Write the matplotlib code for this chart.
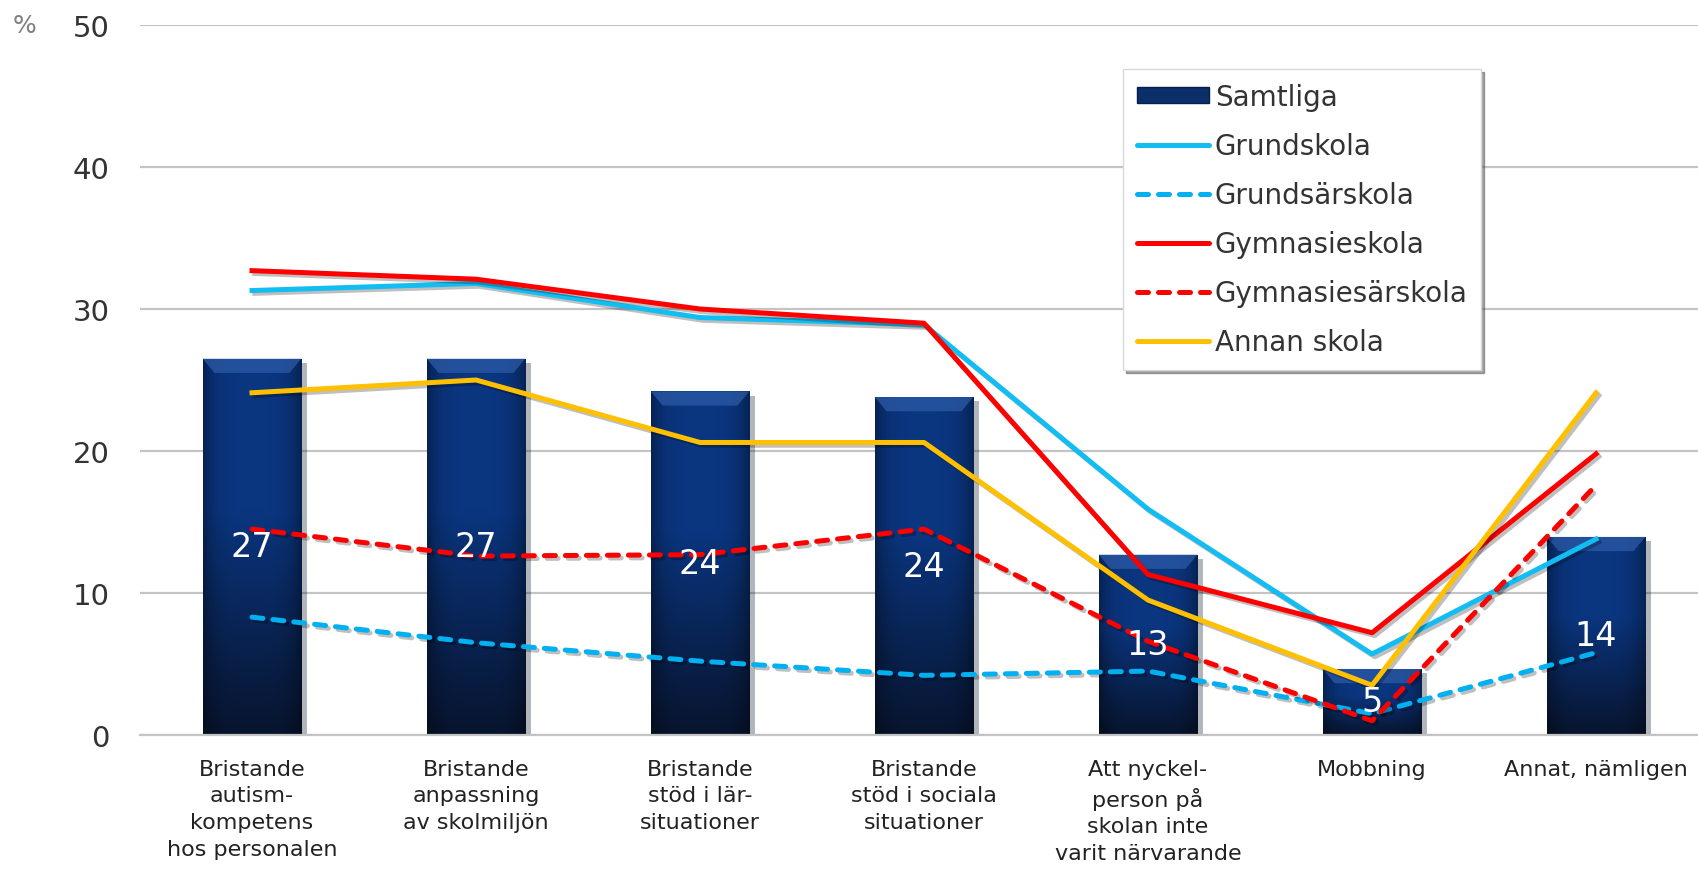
import numpy as np
import matplotlib
matplotlib.use("Agg")
import matplotlib.pyplot as plt
import matplotlib.patheffects as pe
from matplotlib.lines import Line2D
from matplotlib.patches import Patch

plt.rcParams['font.family'] = ['DejaVu Sans']

# Data
categories = ["Bristande\nautism-\nkompetens\nhos personalen",
              "Bristande\nanpassning\nav skolmiljön",
              "Bristande\nstöd i lär-\nsituationer",
              "Bristande\nstöd i sociala\nsituationer",
              "Att nyckel-\nperson på\nskolan inte\nvarit närvarande",
              "Mobbning",
              "Annat, nämligen"]
samtliga = [26.5, 26.5, 24.2, 23.8, 12.7, 4.65, 13.95]
samtliga_labels = ["27", "27", "24", "24", "13", "5", "14"]
grundskola = [31.3, 31.8, 29.4, 28.9, 15.9, 5.7, 13.8]
grundsarskola = [8.3, 6.5, 5.2, 4.2, 4.5, 1.5, 5.8]
gymnasieskola = [32.7, 32.1, 30.0, 29.0, 11.3, 7.2, 19.8]
gymnasiesarskola = [14.5, 12.6, 12.7, 14.5, 6.6, 1.0, 17.6]
annan_skola = [24.1, 25.0, 20.6, 20.6, 9.5, 3.5, 24.1]

x = np.arange(len(categories))

fig = plt.figure(figsize=(16.98, 8.70), dpi=100)
ax = fig.add_axes([140 / 1698, 134 / 870, 1558 / 1698, 710 / 870])

# bars with a simple navy gradient
bars = ax.bar(x, samtliga, width=0.44, color="#0b2f6b", zorder=2,
              path_effects=[pe.SimplePatchShadow(offset=(4, -3), alpha=0.3), pe.Normal()])
vert = np.linspace(1, 0, 200)[:, None]
horiz = 1 - 0.35 * np.abs(np.linspace(-1, 1, 60))[None, :] ** 4
top_c = np.array([0.04, 0.21, 0.50])
bot_c = np.array([0.03, 0.08, 0.18])
mix = np.clip(vert / 0.6, 0, 1)
grad = (bot_c[None, None, :] * (1 - mix[..., None]) + top_c[None, None, :] * mix[..., None]) * horiz[..., None]
for b in bars:
    x0, w, h = b.get_x(), b.get_width(), b.get_height()
    im = ax.imshow(grad, extent=[x0, x0 + w, 0, h], aspect="auto", zorder=2.1,
                   interpolation="bilinear")
    im.set_clip_path(b)
    # lighter bevel at top
    ax.fill([x0, x0 + w, x0 + w * 0.88, x0 + w * 0.12],
            [h, h, h - 1.0, h - 1.0], color="#2c5aa6", alpha=0.75, zorder=2.2, lw=0)

for xi, v, lab in zip(x, samtliga, samtliga_labels):
    ax.text(xi, v / 2, lab, color="white", fontsize=24, ha="center", va="center", zorder=5)

shadow = [pe.SimpleLineShadow(offset=(2, -2), alpha=0.25), pe.Normal()]
blue = "#12bdf2"
red = "#ff0000"
yellow = "#ffc000"
lw = 3.6
ax.plot(x, grundskola, color=blue, lw=lw, zorder=3, path_effects=shadow)
ax.plot(x, grundsarskola, color="#00b0f0", lw=lw, ls=(0, (2.2, 2.0)),
        dash_capstyle="round", zorder=3, path_effects=shadow)
ax.plot(x, gymnasieskola, color=red, lw=lw, zorder=3, path_effects=shadow)
ax.plot(x, gymnasiesarskola, color=red, lw=lw, ls=(0, (2.2, 2.0)),
        dash_capstyle="round", zorder=3, path_effects=shadow)
ax.plot(x, annan_skola, color=yellow, lw=lw, zorder=3, path_effects=shadow)

ax.set_xlim(-0.5, 6.455)
ax.set_ylim(0, 50)
ax.set_yticks([0, 10, 20, 30, 40, 50])
ax.yaxis.grid(True, color="#c4c4c4", lw=1.6, zorder=0)
ax.set_axisbelow(True)
for s in ["top", "right", "left"]:
    ax.spines[s].set_visible(False)
ax.spines["bottom"].set_color("#c4c4c4")
ax.spines["bottom"].set_linewidth(1.6)
ax.tick_params(axis="y", length=0, pad=22, labelsize=21, labelcolor="#333333")
ax.tick_params(axis="x", length=0, pad=17, labelsize=16, labelcolor="#222222")
ax.set_xticks(x)
ax.set_xticklabels(categories, linespacing=1.42)

fig.text(25 / 1698, 1 - 26 / 870, "%", fontsize=18, color="#808080", ha="center", va="center")

handles = [Patch(facecolor="#0b2f6b", edgecolor="#0a1f45"),
           Line2D([], [], color=blue, lw=lw, solid_capstyle="round"),
           Line2D([], [], color="#00b0f0", lw=lw, ls=(0, (2.2, 2.0)), dash_capstyle="round"),
           Line2D([], [], color=red, lw=lw, solid_capstyle="round"),
           Line2D([], [], color=red, lw=lw, ls=(0, (2.2, 2.0)), dash_capstyle="round"),
           Line2D([], [], color=yellow, lw=lw, solid_capstyle="round")]
names = ["Samtliga", "Grundskola", "Grundsärskola", "Gymnasieskola", "Gymnasiesärskola", "Annan skola"]
leg = ax.legend(handles, names, loc="upper left", bbox_to_anchor=(1123 / 1698, 1 - 70 / 870),
                bbox_transform=fig.transFigure, fontsize=20, frameon=True, fancybox=False,
                shadow=True, handlelength=2.6, handleheight=0.55, handletextpad=0.2,
                labelspacing=0.76, borderpad=0.5, borderaxespad=0, labelcolor="#333333")
leg.get_frame().set_edgecolor("#d9d9d9")
leg.get_frame().set_linewidth(1)
leg.set_zorder(10)

fig.savefig("out.png", dpi=100)
